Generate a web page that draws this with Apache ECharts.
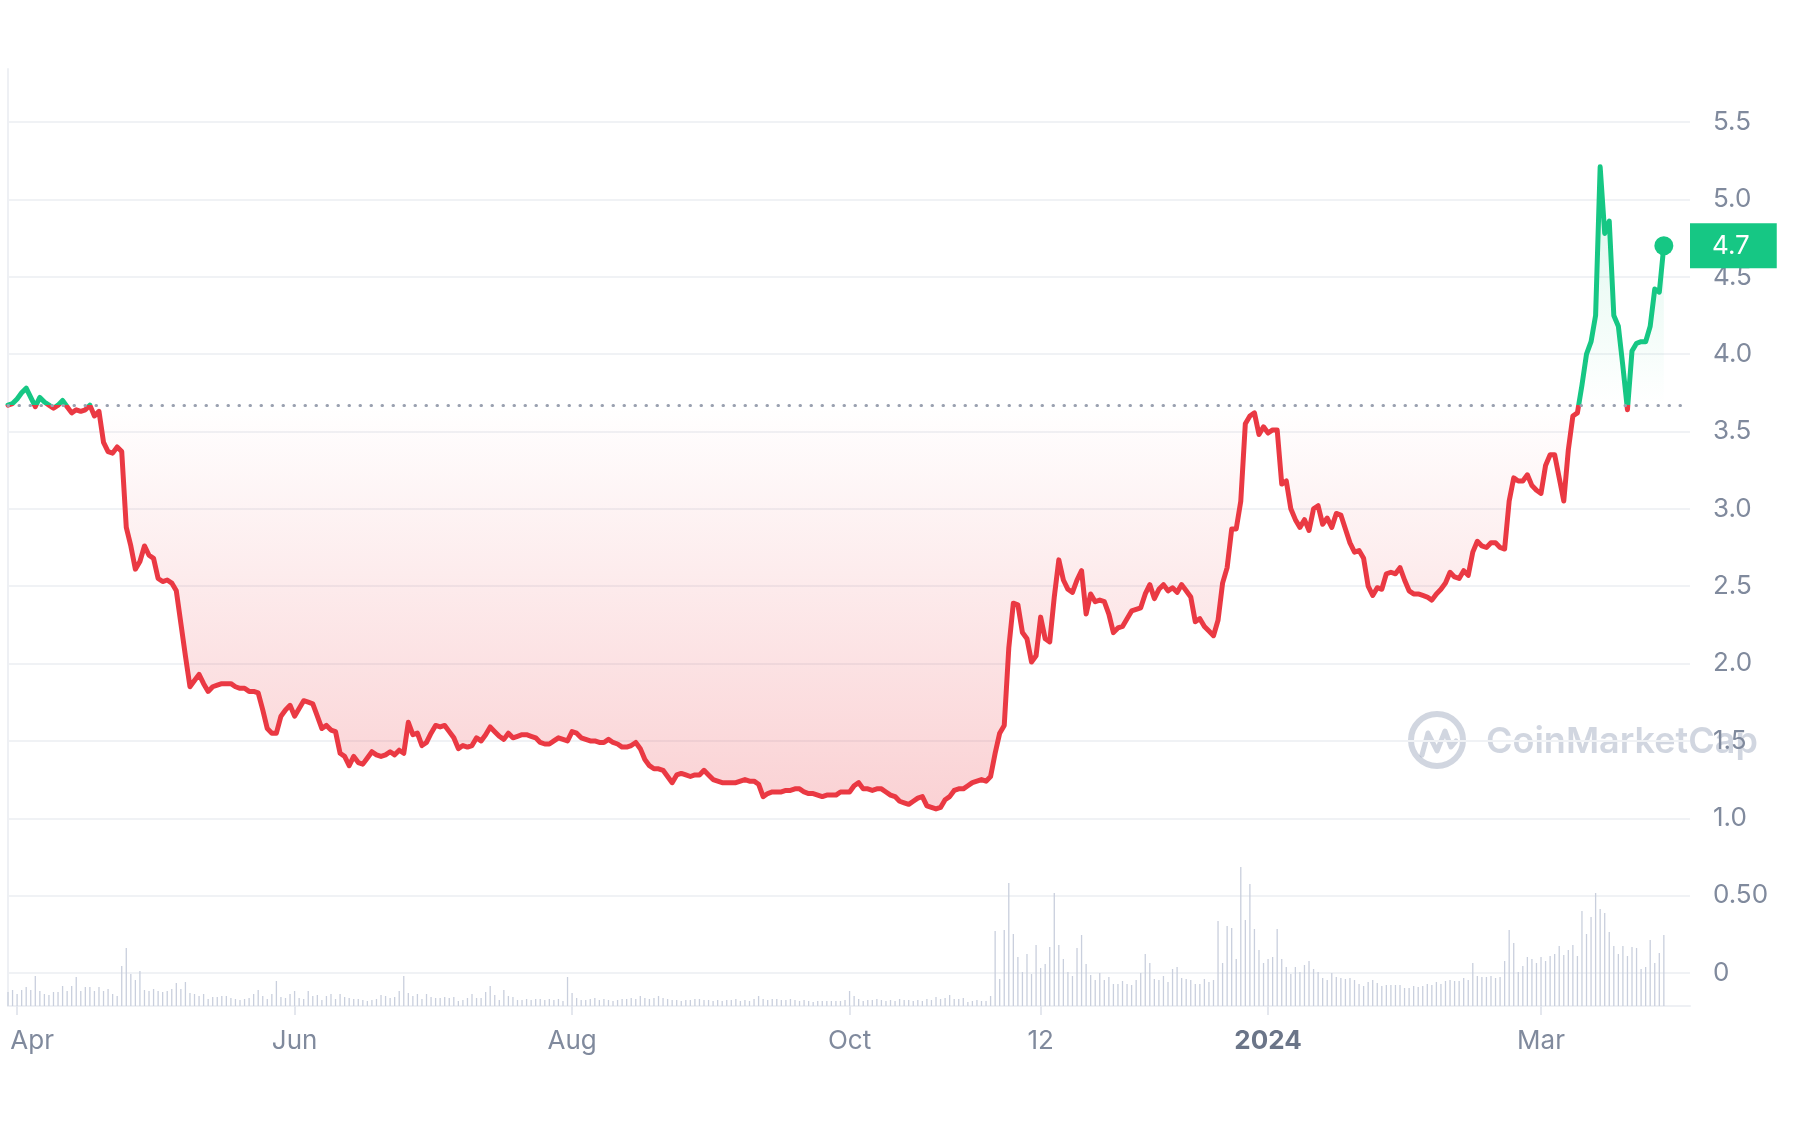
<!DOCTYPE html>
<html>
<head>
<meta charset="utf-8">
<script src="https://cdn.jsdelivr.net/npm/echarts@6/dist/echarts.min.js"></script>
<style>
html,body{margin:0;padding:0;background:#ffffff;}
#chart{width:1797px;height:1146px;}
</style>
</head>
<body>
<div id="chart"></div>
<script>
// ---- data: one value per day, starting 2023-03-30 ----
const startDay = [2023, 2, 30];
const priceValues = [
3.67,3.68,3.71,3.75,3.78,3.72,3.66,3.72,3.69,3.67,
3.65,3.67,3.70,3.66,3.62,3.64,3.63,3.64,3.67,3.60,
3.63,3.43,3.37,3.36,3.40,3.37,2.88,2.76,2.61,2.66,
2.76,2.70,2.68,2.55,2.53,2.54,2.52,2.47,2.26,2.05,
1.85,1.89,1.93,1.87,1.82,1.85,1.86,1.87,1.87,1.87,
1.85,1.84,1.84,1.82,1.82,1.81,1.70,1.58,1.55,1.55,
1.66,1.70,1.73,1.66,1.71,1.76,1.75,1.74,1.66,1.58,
1.60,1.57,1.56,1.42,1.40,1.34,1.40,1.36,1.35,1.39,
1.43,1.41,1.40,1.41,1.43,1.41,1.44,1.42,1.62,1.54,
1.55,1.47,1.49,1.55,1.60,1.59,1.60,1.56,1.52,1.45,
1.47,1.46,1.47,1.52,1.50,1.54,1.59,1.56,1.53,1.51,
1.55,1.52,1.53,1.54,1.54,1.53,1.52,1.49,1.48,1.48,
1.50,1.52,1.51,1.50,1.56,1.55,1.52,1.51,1.50,1.50,
1.49,1.49,1.51,1.49,1.48,1.46,1.46,1.47,1.49,1.45,
1.38,1.34,1.32,1.32,1.31,1.27,1.23,1.28,1.29,1.28,
1.27,1.28,1.28,1.31,1.28,1.25,1.24,1.23,1.23,1.23,
1.23,1.24,1.25,1.24,1.24,1.22,1.14,1.16,1.17,1.17,
1.17,1.18,1.18,1.19,1.19,1.17,1.16,1.16,1.15,1.14,
1.15,1.15,1.15,1.17,1.17,1.17,1.21,1.23,1.19,1.19,
1.18,1.19,1.19,1.17,1.15,1.14,1.11,1.10,1.09,1.11,
1.13,1.14,1.08,1.07,1.06,1.07,1.12,1.14,1.18,1.19,
1.19,1.21,1.23,1.24,1.25,1.24,1.27,1.42,1.55,1.60,
2.10,2.39,2.38,2.20,2.16,2.01,2.05,2.30,2.16,2.14,
2.43,2.67,2.54,2.48,2.46,2.54,2.60,2.32,2.45,2.40,
2.41,2.40,2.32,2.20,2.23,2.24,2.29,2.34,2.35,2.36,
2.45,2.51,2.42,2.48,2.51,2.47,2.49,2.46,2.51,2.47,
2.43,2.27,2.29,2.24,2.21,2.18,2.28,2.52,2.62,2.87,
2.87,3.05,3.55,3.60,3.62,3.48,3.53,3.49,3.51,3.51,
3.16,3.18,3.00,2.93,2.88,2.93,2.86,3.00,3.02,2.90,
2.94,2.88,2.97,2.96,2.87,2.78,2.72,2.73,2.68,2.50,
2.44,2.49,2.48,2.58,2.59,2.58,2.62,2.54,2.47,2.45,
2.45,2.44,2.43,2.41,2.45,2.48,2.52,2.59,2.56,2.55,
2.60,2.57,2.72,2.79,2.76,2.75,2.78,2.78,2.75,2.74,
3.05,3.20,3.18,3.18,3.22,3.15,3.12,3.10,3.28,3.35,
3.35,3.20,3.05,3.38,3.60,3.62,3.80,4.00,4.08,4.25,
5.21,4.78,4.86,4.25,4.18,3.92,3.64,4.02,4.07,4.08,
4.08,4.18,4.42,4.40,4.70
];
const volumeValues = [
14,16,12,16,19,16,30,15,12,11,
14,14,20,15,20,29,15,19,19,15,
19,15,17,12,10,40,58,32,26,35,
16,15,17,15,14,15,17,23,17,24,
13,12,10,12,7,9,9,10,10,8,
7,6,7,8,12,16,10,7,12,25,
9,8,12,15,8,7,15,10,11,6,
10,12,7,12,9,8,7,7,6,5,
6,7,11,10,8,9,15,30,13,10,
12,7,12,9,8,8,9,8,9,5,
6,8,12,8,8,14,20,11,6,16,
10,9,6,6,7,6,7,7,6,7,
6,7,5,29,13,8,6,6,7,8,
6,7,6,5,6,7,7,8,7,10,
8,7,8,10,8,7,6,6,5,6,
6,7,7,6,6,5,6,5,6,6,
7,5,6,5,7,10,7,6,7,7,
6,6,7,6,5,6,5,4,5,5,
5,5,5,5,6,15,10,7,5,6,
6,7,6,5,6,5,7,6,6,5,
6,5,7,6,9,7,8,11,7,7,
8,4,5,6,5,5,10,75,27,76,
123,72,49,34,52,32,61,38,42,59,
113,61,47,34,30,58,71,42,31,26,
33,26,29,22,22,25,22,21,26,33,
52,43,27,26,30,24,37,39,28,27,
26,22,22,27,24,26,85,43,80,78,
47,139,86,122,77,56,43,47,49,77,
47,39,32,39,34,41,45,37,34,28,
26,33,29,28,27,28,26,22,20,24,
26,23,20,21,21,21,21,18,18,20,
19,20,22,21,24,22,25,26,25,25,
28,26,43,30,29,29,30,28,29,45,
76,63,34,40,49,47,43,49,45,50,
52,60,51,56,61,50,95,72,89,113,
97,93,74,60,52,60,50,59,58,37,
39,66,43,53,71
];
const baselinePrice = 3.67;
const xTickDates = ['2023-04-01','2023-06-01','2023-08-01','2023-10-01','2023-11-12','2024-01-01','2024-03-01'];
const xTickLabels = ['Apr','Jun','Aug','Oct','12','2024','Mar'];
const yTickLabels = ['0','0.50','1.0','1.5','2.0','2.5','3.0','3.5','4.0','4.5','5.0','5.5'];

// ---- helpers: x axis counts days since the start day ----
const DAY = 86400000;
const t0 = Date.UTC(startDay[0], startDay[1], startDay[2]);
function dayIndex(s){ const p = s.split('-').map(Number); return Math.round((Date.UTC(p[0], p[1]-1, p[2]) - t0) / DAY); }
const priceData = priceValues.map((v, i) => [i, v]);
const volumeData = volumeValues.map((v, i) => [i, v]);
const lastIdx = priceValues.length - 1;
const lastPrice = priceValues[lastIdx];
const xTickDays = xTickDates.map(dayIndex);
const xMin = 0;
const xMax = 369.75;

const GREEN = '#16c784', RED = '#ea3943', GREY = '#808a9d';
const pMax = Math.max.apply(null, priceValues), pMin = Math.min.apply(null, priceValues);
// position of the baseline inside the bounding box of the line / area (0 = top, 1 = bottom)
const baseOff = (pMax - baselinePrice) / (pMax - pMin);

const lineColor = new echarts.graphic.LinearGradient(0, 0, 0, 1, [
  {offset: 0, color: GREEN}, {offset: baseOff, color: GREEN},
  {offset: baseOff, color: RED}, {offset: 1, color: RED}
]);
const areaColor = new echarts.graphic.LinearGradient(0, 0, 0, 1, [
  {offset: 0, color: 'rgba(22,199,132,0.22)'},
  {offset: baseOff, color: 'rgba(22,199,132,0.0)'},
  {offset: baseOff, color: 'rgba(234,57,67,0.0)'},
  {offset: 1, color: 'rgba(234,57,67,0.33)'}
]);

const chart = echarts.init(document.getElementById('chart'), null, {renderer: 'canvas'});
const wm = 'rgba(140,152,178,0.40)';
const option = {
  backgroundColor: '#ffffff',
  animation: false,
  textStyle: {fontFamily: 'Inter, "Noto Sans", sans-serif'},
  grid: [
    {left: 8, right: 107, top: 122, bottom: 173},
    {left: 8, right: 107, top: 69, bottom: 140}
  ],
  xAxis: [
    {type: 'value', gridIndex: 0, min: xMin, max: xMax, show: false},
    {type: 'value', gridIndex: 1, min: xMin, max: xMax,
      axisLine: {show: true, lineStyle: {color: '#eef0f4', width: 2}},
      axisTick: {show: true, customValues: xTickDays, length: 9, lineStyle: {color: '#e4e7ee', width: 2}},
      splitLine: {show: false},
      axisLabel: {
        customValues: xTickDays, margin: 22, color: GREY, fontSize: 26, fontFamily: 'Inter',
        formatter: function (v) {
          const k = xTickDays.indexOf(Math.round(v));
          if (k < 0) return '';
          if (k === 0) return '{a|' + xTickLabels[k] + '}';
          if (xTickLabels[k] === '2024') return '{b|' + xTickLabels[k] + '}';
          return xTickLabels[k];
        },
        rich: {
          a: {color: GREY, fontSize: 26, fontFamily: 'Inter', padding: [0, 0, 0, 30]},
          b: {color: '#6b7588', fontSize: 26, fontFamily: 'Inter', fontWeight: 'bold'}
        }
      }
    }
  ],
  yAxis: [
    {type: 'value', gridIndex: 0, position: 'right', min: 0, max: 5.5, interval: 0.5,
      axisLine: {show: false}, axisTick: {show: false},
      splitLine: {show: true, lineStyle: {color: '#f0f2f5', width: 2}},
      axisLabel: {margin: 23, color: GREY, fontSize: 26, fontFamily: 'Inter',
        formatter: function (v) { return yTickLabels[Math.round(v / 0.5)]; }}
    },
    {type: 'value', gridIndex: 1, position: 'right', min: 0, max: 937,
      axisLine: {show: true, lineStyle: {color: '#eef0f4', width: 2}},
      axisTick: {show: false}, axisLabel: {show: false}, splitLine: {show: false}
    }
  ],
  series: [
    {type: 'bar', xAxisIndex: 1, yAxisIndex: 1, data: volumeData, barWidth: 1.3,
      itemStyle: {color: '#c9cfdd'}, silent: true, z: 1},
    {type: 'line', xAxisIndex: 0, yAxisIndex: 0, data: priceData, showSymbol: false, symbol: 'none',
      lineStyle: {width: 5, color: lineColor, join: 'round', cap: 'round'},
      itemStyle: {color: RED},
      areaStyle: {origin: baselinePrice, color: areaColor},
      markLine: {
        silent: true, symbol: ['none', 'none'], animation: false,
        data: [
          {yAxis: baselinePrice, lineStyle: {color: '#9aa1b0', width: 3, type: [0.5, 10.5], cap: 'round', opacity: 1}, label: {show: false}},
          {yAxis: lastPrice, lineStyle: {color: 'rgba(0,0,0,0)', width: 0, opacity: 1}, label: {
            show: true, position: 'end', distance: 0, formatter: lastPrice.toFixed(1),
            backgroundColor: GREEN, color: '#ffffff', fontSize: 26, fontFamily: 'Inter',
            lineHeight: 26, padding: [10, 27, 9, 22], opacity: 1
          }}
        ]
      },
      z: 3
    },
    {type: 'scatter', xAxisIndex: 0, yAxisIndex: 0, data: [[lastIdx, lastPrice]],
      symbolSize: 19, itemStyle: {color: GREEN, opacity: 1}, silent: true, z: 4}
  ],
  graphic: [
    {type: 'group', left: 1408, top: 711, z: 100, silent: true, children: [
      {type: 'circle', shape: {cx: 29, cy: 29, r: 26}, style: {fill: 'none', stroke: wm, lineWidth: 6}},
      {type: 'polyline', shape: {points: [[14, 44], [20, 22], [29, 40], [37, 20], [43, 36], [48, 30]]},
        style: {fill: 'none', stroke: wm, lineWidth: 5, lineJoin: 'round', lineCap: 'round'}},
      {type: 'text', x: 78, y: 31, style: {text: 'CoinMarketCap', fill: wm,
        font: '600 36px Inter, sans-serif', textVerticalAlign: 'middle', verticalAlign: 'middle'}}
    ]}
  ]
};
chart.setOption(option);
</script>
</body>
</html>
